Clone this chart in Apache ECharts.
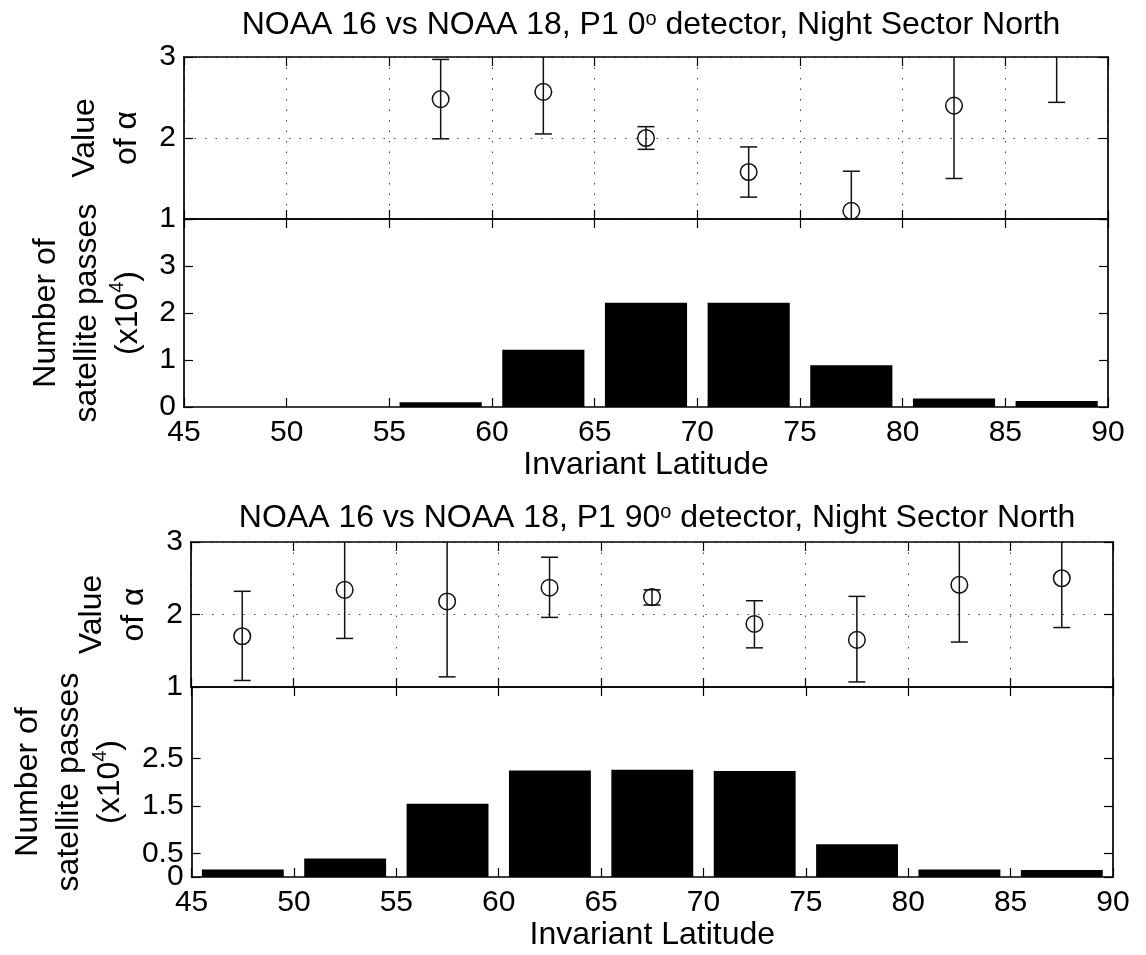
<!DOCTYPE html>
<html>
<head>
<meta charset="utf-8">
<script src="https://cdn.jsdelivr.net/npm/echarts@6/dist/echarts.min.js"></script>
<style>
  html, body { margin: 0; padding: 0; background: #fff; }
  #chart { width: 1146px; height: 955px; }
</style>
</head>
<body>
<div id="chart"></div>
<script>
// Invariant-latitude bins (5 degree wide, centred values)
const latBins = [47.5, 52.5, 57.5, 62.5, 67.5, 72.5, 77.5, 82.5, 87.5];

// P1 0 degree detector: fitted alpha with error range
const alpha0     = [null, null, 2.48, 2.57, 2.00, 1.58, 1.10, 2.40, 3.40];
const alpha0Low  = [null, null, 1.99, 2.05, 1.86, 1.27, 0.61, 1.50, 2.44];
const alpha0High = [null, null, 2.97, 3.09, 2.14, 1.89, 1.59, 3.30, 4.36];
// P1 0 degree detector: number of satellite passes (x10^4)
const passes0    = [0, 0, 0.10, 1.22, 2.22, 2.22, 0.89, 0.18, 0.13];

// P1 90 degree detector: fitted alpha with error range
const alpha90     = [1.70, 2.34, 2.18, 2.37, 2.24, 1.87, 1.65, 2.41, 2.50];
const alpha90Low  = [1.09, 1.67, 1.14, 1.96, 2.13, 1.54, 1.07, 1.62, 1.82];
const alpha90High = [2.32, 3.01, 3.22, 2.79, 2.34, 2.19, 2.25, 3.20, 3.18];
// P1 90 degree detector: number of satellite passes (x10^4)
const passes90    = [0.16, 0.39, 1.54, 2.24, 2.26, 2.23, 0.69, 0.16, 0.15];

// Tick values
const passTicks90 = [0, 0.5, 1.5, 2.5];

const titles = [
  'NOAA 16 vs NOAA 18, P1 0{sup|o} detector, Night Sector North',
  'NOAA 16 vs NOAA 18, P1 90{sup|o} detector, Night Sector North'
];
const xName = 'Invariant Latitude';
const alphaName = 'Value\nof \u03b1';
const passName = 'Number of\nsatellite passes\n(x10{sup|4})';

const FONT = 'Liberation Sans, Arial, Helvetica, sans-serif';
const FS_TICK = 30;
const FS_NAME = 32;
const FS_TITLE = 32;
const BAR_HALF = 2.0;   // bar half-width in degrees
const INK = '#000';

const supRich = { sup: { fontSize: 20, verticalAlign: 'top', fontFamily: FONT, color: INK } };

// Grid rectangles (pixels)
const grids = [
  { left: 184, width: 924, top: 57,  height: 162 },
  { left: 184, width: 924, top: 219, height: 188 },
  { left: 191, width: 922, top: 542, height: 145 },
  { left: 191, width: 922, top: 687, height: 190 }
];

function errData(v, lo, hi) {
  const out = [];
  for (let i = 0; i < latBins.length; i++) {
    if (v[i] == null) continue;
    out.push([latBins[i], v[i], lo[i], hi[i]]);
  }
  return out;
}
function barData(v) {
  return latBins.map((x, i) => [x, v[i]]);
}

function errorItem(params, api) {
  const x = api.value(0), v = api.value(1), lo = api.value(2), hi = api.value(3);
  const pV = api.coord([x, v]);
  const pLo = api.coord([x, lo]);
  const pHi = api.coord([x, hi]);
  const cap = 8.5;
  const st = { stroke: '#111', lineWidth: 1.5, fill: null };
  return {
    type: 'group',
    children: [
      { type: 'line', shape: { x1: pHi[0], y1: pHi[1], x2: pLo[0], y2: pLo[1] }, style: st },
      { type: 'line', shape: { x1: pHi[0] - cap, y1: pHi[1], x2: pHi[0] + cap, y2: pHi[1] }, style: st },
      { type: 'line', shape: { x1: pLo[0] - cap, y1: pLo[1], x2: pLo[0] + cap, y2: pLo[1] }, style: st },
      { type: 'ellipse', shape: { cx: pV[0], cy: pV[1], rx: 8.3, ry: 8.3 }, style: { stroke: '#111', lineWidth: 1.5, fill: 'none' } }
    ]
  };
}

function barItem(params, api) {
  const x = api.value(0), v = api.value(1);
  const a = api.coord([x - BAR_HALF, v]);
  const b = api.coord([x + BAR_HALF, 0]);
  return {
    type: 'rect',
    shape: { x: a[0], y: a[1], width: b[0] - a[0], height: b[1] - a[1] },
    style: { fill: INK }
  };
}

const lineStyle = { color: INK, width: 1.7 };
const tickStyle = { inside: true, length: 9, lineStyle: { color: INK, width: 1.2 } };
const labelStyle = { color: INK, fontSize: FS_TICK, fontFamily: FONT, showMinLabel: true, showMaxLabel: true, hideOverlap: false };
const dotted = { show: true, lineStyle: { color: '#444', width: 1, type: [1.5, 9] } };
const nameStyle = { color: INK, fontSize: FS_NAME, fontFamily: FONT };

const xAxes = [];
const yAxes = [];
grids.forEach((g, i) => {
  const isBar = i % 2 === 1;
  // bottom x axis
  xAxes.push({
    gridIndex: i, type: 'value', position: 'bottom', min: 45, max: 90, interval: 5,
    axisLine: { show: true, onZero: false, lineStyle },
    axisTick: tickStyle,
    axisLabel: Object.assign({ show: isBar, margin: 11 }, labelStyle),
    splitLine: isBar ? { show: false } : dotted,
    name: isBar ? xName : '', nameLocation: 'middle', nameGap: 42,
    nameTextStyle: nameStyle
  });
  // top x axis (ticks only)
  xAxes.push({
    gridIndex: i, type: 'value', position: 'top', min: 45, max: 90, interval: 5,
    axisLine: { show: true, onZero: false, lineStyle },
    axisTick: tickStyle, axisLabel: { show: false }, splitLine: { show: false }
  });
});

// alpha panels
[0, 2].forEach((gi) => {
  yAxes[gi * 2] = {
    gridIndex: gi, type: 'value', position: 'left', min: 1, max: 3, interval: 1,
    axisLine: { show: true, onZero: false, lineStyle },
    axisTick: tickStyle,
    axisLabel: Object.assign({ margin: 8 }, labelStyle),
    splitLine: dotted,
    name: alphaName, nameLocation: 'middle', nameRotate: 90, nameGap: 31,
    nameTextStyle: Object.assign({ lineHeight: 42, align: 'center' }, nameStyle)
  };
  yAxes[gi * 2 + 1] = {
    gridIndex: gi, type: 'value', position: 'right', min: 1, max: 3, interval: 1,
    axisLine: { show: true, onZero: false, lineStyle },
    axisTick: tickStyle, axisLabel: { show: false }, splitLine: { show: false }
  };
});

// passes panel, 0 degree detector
yAxes[2] = {
  gridIndex: 1, type: 'value', position: 'left', min: 0, max: 4, interval: 1,
  axisLine: { show: true, onZero: false, lineStyle },
  axisTick: tickStyle,
  axisLabel: Object.assign({ margin: 8, formatter: v => (v === 4 ? '' : String(v)) }, labelStyle),
  splitLine: { show: false },
  name: passName, nameLocation: 'middle', nameRotate: 90, nameGap: 32,
  nameTextStyle: Object.assign({ lineHeight: 41, align: 'center', rich: supRich }, nameStyle)
};
yAxes[3] = {
  gridIndex: 1, type: 'value', position: 'right', min: 0, max: 4, interval: 1,
  axisLine: { show: true, onZero: false, lineStyle },
  axisTick: tickStyle, axisLabel: { show: false }, splitLine: { show: false }
};
// passes panel, 90 degree detector (labels above zero)
yAxes[6] = {
  gridIndex: 3, type: 'value', position: 'left', min: 0, max: 4,
  axisLine: { show: true, onZero: false, lineStyle },
  axisTick: Object.assign({}, tickStyle, { customValues: passTicks90 }),
  axisLabel: Object.assign({}, labelStyle, { margin: 8, customValues: passTicks90.slice(1) }),
  splitLine: { show: false },
  name: passName, nameLocation: 'middle', nameRotate: 90, nameGap: 58,
  nameTextStyle: Object.assign({ lineHeight: 41, align: 'center', rich: supRich }, nameStyle)
};
yAxes[7] = {
  gridIndex: 3, type: 'value', position: 'right', min: 0, max: 4,
  axisLine: { show: true, onZero: false, lineStyle },
  axisTick: Object.assign({}, tickStyle, { customValues: passTicks90 }),
  axisLabel: { show: false }, splitLine: { show: false }
};
// the zero label sits very close to 0.5, so it is drawn by its own overlaid axis
yAxes[8] = {
  gridIndex: 3, type: 'value', position: 'left', offset: 0, min: 0, max: 4,
  axisLine: { show: false }, axisTick: { show: false }, splitLine: { show: false },
  axisLabel: Object.assign({}, labelStyle, { margin: 8, customValues: passTicks90.slice(0, 1) })
};

const titleStyle = { fontSize: FS_TITLE, fontWeight: 'normal', color: INK, fontFamily: FONT,
  rich: { sup: { fontSize: 20, verticalAlign: 'top', fontFamily: FONT, color: INK } } };

const option = {
  backgroundColor: '#fff',
  animation: false,
  textStyle: { fontFamily: FONT, color: INK },
  title: [
    { text: titles[0], left: 646, top: 4, textAlign: 'center', textStyle: titleStyle },
    { text: titles[1], left: 652, top: 497, textAlign: 'center', textStyle: titleStyle }
  ],
  grid: grids,
  xAxis: xAxes,
  yAxis: yAxes,
  series: [
    { type: 'custom', xAxisIndex: 0, yAxisIndex: 0, clip: true, renderItem: errorItem,
      data: errData(alpha0, alpha0Low, alpha0High), encode: { x: 0, y: 1 }, z: 5 },
    { type: 'custom', xAxisIndex: 2, yAxisIndex: 2, clip: true, renderItem: barItem,
      data: barData(passes0), encode: { x: 0, y: 1 } },
    { type: 'custom', xAxisIndex: 4, yAxisIndex: 4, clip: true, renderItem: errorItem,
      data: errData(alpha90, alpha90Low, alpha90High), encode: { x: 0, y: 1 }, z: 5 },
    { type: 'custom', xAxisIndex: 6, yAxisIndex: 6, clip: true, renderItem: barItem,
      data: barData(passes90), encode: { x: 0, y: 1 } }
  ]
};

const chart = echarts.init(document.getElementById('chart'), null, { renderer: 'canvas' });
chart.setOption(option);
</script>
</body>
</html>
